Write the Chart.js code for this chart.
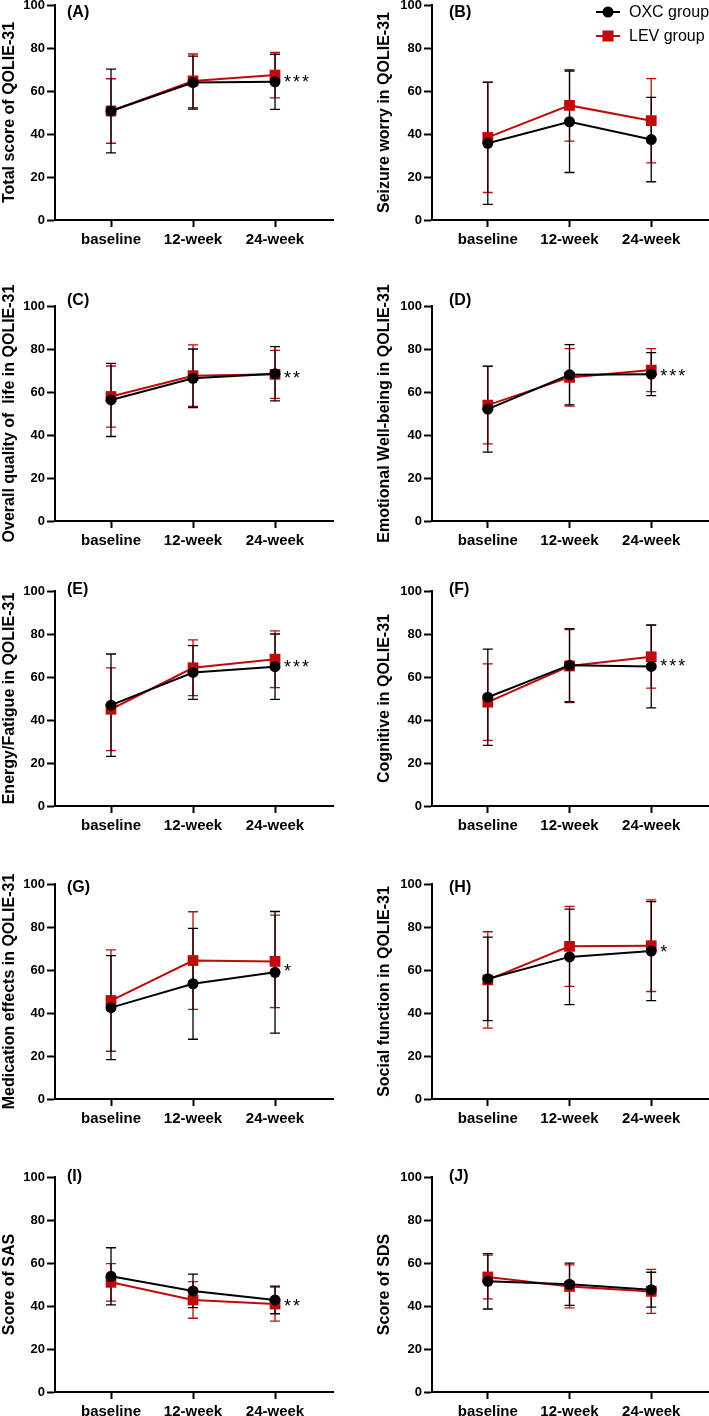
<!DOCTYPE html>
<html><head><meta charset="utf-8">
<script src="https://cdn.jsdelivr.net/npm/chart.js@4.4.1/dist/chart.umd.min.js"></script>
<style>
html,body{margin:0;padding:0;background:#fff;}
body{width:709px;height:1416px;position:relative;overflow:hidden;}
canvas{position:absolute;}
</style></head><body>
<script>
// ---------- data ----------
const categories = ['baseline', '12-week', '24-week'];
const yTickValues = [0, 20, 40, 60, 80, 100];
const panelLabels = ['(A)', '(B)', '(C)', '(D)', '(E)', '(F)', '(G)', '(H)', '(I)', '(J)'];
const yTitles = [
  'Total score of QOLIE-31',
  'Seizure worry in QOLIE-31',
  'Overall quality of  life in QOLIE-31',
  'Emotional Well-being in QOLIE-31',
  'Energy/Fatigue in QOLIE-31',
  'Cognitive in QOLIE-31',
  'Medication effects in QOLIE-31',
  'Social function in QOLIE-31',
  'Score of SAS',
  'Score of SDS'
];
const seriesNames = ['OXC group', 'LEV group'];
const oxcMeans = [
  [50.7, 63.9, 64.3],
  [35.7, 45.7, 37.4],
  [56.3, 66.4, 68.5],
  [52.0, 68.0, 68.3],
  [46.9, 62.1, 64.8],
  [50.6, 65.5, 64.9],
  [42.5, 53.6, 58.9],
  [55.9, 66.1, 68.8],
  [53.8, 47.0, 42.8],
  [51.5, 50.1, 47.6]
];
const oxcSD = [
  [19.5, 12.3, 12.8],
  [28.4, 23.6, 19.6],
  [17.0, 13.6, 12.6],
  [20.0, 14.0, 10.0],
  [23.8, 12.5, 15.2],
  [22.4, 17.0, 19.3],
  [24.2, 25.8, 28.3],
  [19.4, 22.2, 23.0],
  [13.3, 7.8, 6.4],
  [12.9, 9.8, 8.1]
];
const levMeans = [
  [50.7, 64.7, 67.4],
  [38.4, 53.3, 46.2],
  [57.9, 67.6, 68.2],
  [53.9, 66.8, 70.2],
  [45.0, 64.3, 68.3],
  [48.3, 65.1, 69.4],
  [45.8, 64.4, 64.0],
  [55.4, 71.0, 71.3],
  [51.0, 42.8, 40.9],
  [53.5, 49.1, 46.8]
];
const levSD = [
  [15.0, 12.5, 10.6],
  [25.6, 16.6, 19.6],
  [14.2, 14.3, 11.2],
  [18.0, 13.4, 10.0],
  [19.2, 13.0, 13.2],
  [17.8, 17.0, 14.6],
  [23.6, 22.7, 21.5],
  [22.4, 18.6, 21.3],
  [8.7, 8.5, 7.9],
  [10.2, 10.0, 10.2]
];
const significance = ['***', '', '**', '***', '***', '***', '*', '*', '**', ''];

// ---------- layout / style ----------
const FONT = 'Arial, "Liberation Sans", sans-serif';
const RED = '#BE0A0A';
const rowTops = [5, 306, 591, 884, 1177];      // y of value 100 for each row
const labelDy = [8, -5, -1, 4, 0];
const PAD_TOP = 30, PLOT_H = 215, XAX_H = 32;

function makeMarkerCanvas(style, color) {
  const c = document.createElement('canvas');
  c.width = 24; c.height = 16;
  const g = c.getContext('2d');
  g.strokeStyle = color; g.lineWidth = 2;
  g.beginPath(); g.moveTo(0, 8); g.lineTo(24, 8); g.stroke();
  g.fillStyle = color;
  if (style === 'circle') { g.beginPath(); g.arc(12, 8, 5.5, 0, Math.PI * 2); g.fill(); }
  else { g.fillRect(6.5, 2.5, 11, 11); }
  return c;
}

const errorBars = {
  id: 'errorBars',
  beforeDatasetsDraw(chart, args, opts) {
    const ctx = chart.ctx, xs = chart.scales.x, ys = chart.scales.y;
    ctx.save();
    for (let d = chart.data.datasets.length - 1; d >= 0; d--) {
      const ds = chart.data.datasets[d];
      ctx.strokeStyle = ds.borderColor;
      ctx.lineWidth = 1.3;
      ds.data.forEach((p, i) => {
        const x = xs.getPixelForValue(p.x);
        const y1 = ys.getPixelForValue(p.y + ds.sd[i]);
        const y2 = ys.getPixelForValue(p.y - ds.sd[i]);
        ctx.beginPath();
        ctx.moveTo(x, y1); ctx.lineTo(x, y2);
        ctx.moveTo(x - 5, y1); ctx.lineTo(x + 5, y1);
        ctx.moveTo(x - 5, y2); ctx.lineTo(x + 5, y2);
        ctx.stroke();
      });
    }
    ctx.restore();
  }
};

const annotations = {
  id: 'annotations',
  afterDraw(chart, args, opts) {
    const ctx = chart.ctx, xs = chart.scales.x, ys = chart.scales.y, a = chart.chartArea;
    ctx.save();
    ctx.fillStyle = '#000';
    // panel label
    ctx.font = 'bold 16px ' + FONT;
    ctx.textBaseline = 'middle';
    ctx.textAlign = 'left';
    ctx.fillText(opts.label, a.left + opts.labelDx, a.top + opts.labelDy);
    // significance
    if (opts.sig) {
      const i = 2;
      const ym = (chart.data.datasets[0].data[i].y + chart.data.datasets[1].data[i].y) / 2;
      ctx.font = '18px ' + FONT;
      if ('letterSpacing' in ctx) ctx.letterSpacing = '2px';
      ctx.fillText(opts.sig, xs.getPixelForValue(i) + 9, ys.getPixelForValue(ym) + 5);
      if ('letterSpacing' in ctx) ctx.letterSpacing = '0px';
    }
    // legend
    if (opts.legend) {
      const x0 = a.right - 113;
      chart.data.datasets.forEach((ds, k) => {
        const y = a.top + 7 + k * 24;
        ctx.drawImage(ds.legendMarker, x0, y - 8);
        ctx.font = '16px ' + FONT;
        ctx.fillStyle = '#000';
        ctx.fillText(ds.label, x0 + 33, y + 1);
      });
    }
    ctx.restore();
  }
};

for (let p = 0; p < 10; p++) {
  const col = p % 2, row = Math.floor(p / 2);
  const cv = document.createElement('canvas');
  const W = col ? 363 : 354, H = PAD_TOP + PLOT_H + XAX_H;
  cv.width = W; cv.height = H;
  cv.style.left = (col ? 354 : 0) + 'px';
  cv.style.top = (rowTops[row] - PAD_TOP) + 'px';
  cv.style.width = W + 'px'; cv.style.height = H + 'px';
  document.body.appendChild(cv);

  const yW = col ? 57 : 55;
  new Chart(cv.getContext('2d'), {
    type: 'line',
    data: {
      datasets: [
        {
          label: seriesNames[0],
          data: oxcMeans[p].map((v, i) => ({ x: i, y: v })),
          sd: oxcSD[p],
          borderColor: '#000', backgroundColor: '#000',
          borderWidth: 2, pointStyle: 'circle', pointRadius: 5.5,
          pointBorderWidth: 0, tension: 0,
          legendMarker: makeMarkerCanvas('circle', '#000')
        },
        {
          label: seriesNames[1],
          data: levMeans[p].map((v, i) => ({ x: i, y: v })),
          sd: levSD[p],
          borderColor: RED, backgroundColor: RED,
          borderWidth: 2, pointStyle: 'rect', pointRadius: 7.6,
          pointBorderWidth: 0, tension: 0,
          legendMarker: makeMarkerCanvas('rect', RED)
        }
      ]
    },
    options: {
      responsive: false, animation: false, devicePixelRatio: 1,
      layout: { padding: { left: col ? 21 : 0, right: col ? 8 : 21, top: PAD_TOP, bottom: 0 } },
      plugins: {
        legend: { display: false }, tooltip: { enabled: false },
        annotations: {
          label: panelLabels[p], labelDx: col ? 17 : 12, labelDy: labelDy[row],
          sig: significance[p], legend: p === 1
        }
      },
      scales: {
        x: {
          type: 'linear', min: -0.683, max: 2.707,
          afterBuildTicks: s => { s.ticks = categories.map((c, i) => ({ value: i })); },
          afterFit: s => { s.height = XAX_H; },
          ticks: {
            callback: v => categories[Math.round(v)],
            color: '#000', font: { family: FONT, size: 15, weight: 'bold' },
            padding: 4, maxRotation: 0, autoSkip: false
          },
          grid: { drawOnChartArea: false, drawTicks: true, tickLength: 7, tickWidth: 2, tickColor: '#000' },
          border: { color: '#000', width: 2 }
        },
        y: {
          min: 0, max: 100,
          afterBuildTicks: s => { s.ticks = yTickValues.map(v => ({ value: v })); },
          afterFit: s => { s.width = yW; },
          ticks: { color: '#000', font: { family: FONT, size: 13, weight: 'bold' }, padding: 2 },
          grid: { drawOnChartArea: false, drawTicks: true, tickLength: 8, tickWidth: 2, tickColor: '#000' },
          border: { color: '#000', width: 2 },
          title: {
            display: true, text: yTitles[p], color: '#000',
            font: { family: FONT, size: 16, weight: 'bold' }, padding: 0
          }
        }
      }
    },
    plugins: [errorBars, annotations]
  });
}
</script>
</body></html>
